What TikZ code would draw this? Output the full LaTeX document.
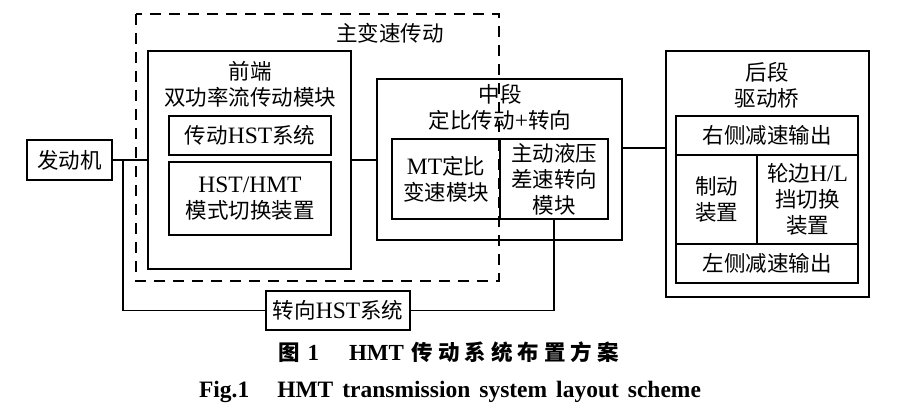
\documentclass[tikz,border=0pt]{standalone}
\usepackage{fontspec}
\setmainfont{Noto Sans CJK SC}
\newfontfamily\lat{Liberation Serif}
\newcommand\latt[1]{{\lat\fontsize{23.5}{26}\selectfont #1}}
\begin{document}
\begin{tikzpicture}[x=1pt,y=-1pt,
  font=\fontsize{21.5}{26}\selectfont,
  box/.style={draw, line width=1.5pt, inner sep=0pt, align=center},
  lbl/.style={inner sep=0pt, align=center},
  conn/.style={line width=1.5pt},
  dashbox/.style={line width=1.5pt, dash pattern=on 11pt off 8pt}]
\useasboundingbox[fill=white] (0,0) rectangle (900,417);

% engine
\node[box, minimum width=85pt, minimum height=40pt] (engine) at (69.5,160) {发动机};

% front module
\node[box, minimum width=203pt, minimum height=218pt] (front) at (249.5,160) {};
\node[lbl] (frontlbl) at (250,84) {前端\\双功率流传动模块};
\node[box, minimum width=162pt, minimum height=39pt] (hst1) at (250,135.5) {传动\latt{HST}系统};
\node[box, minimum width=162pt, minimum height=73pt] (hst2) at (250,198.5) {\latt{HST/HMT}\\模式切换装置};

% middle module
\node[box, minimum width=245pt, minimum height=161pt] (mid) at (499.5,159.5) {};
\node[lbl] (midlbl) at (500,107) {中段\\定比传动\latt{+}转向};
\node[box, minimum width=108pt, minimum height=80pt] (midL) at (446,179) {\latt{MT}定比\\变速模块};
\node[box, minimum width=108pt, minimum height=80pt] (midR) at (554,179) {主动液压\\差速转向\\模块};

% rear module
\node[box, minimum width=203pt, minimum height=246pt] (rear) at (767.5,174) {};
\node[lbl] (rearlbl) at (767,85) {后段\\驱动桥};
\node[box, minimum width=182pt, minimum height=39pt] (r1) at (767,135.5) {右侧减速输出};
\node[box, minimum width=81pt, minimum height=89pt] (r2l) at (716.5,199.5) {制动\\装置};
\node[box, minimum width=101pt, minimum height=89pt] (r2r) at (807.5,199.5) {轮边\latt{H/L}\\挡切换\\装置};
\node[box, minimum width=182pt, minimum height=39pt] (r3) at (767,263.5) {左侧减速输出};

% steering HST
\node[box, minimum width=144pt, minimum height=39pt] (steer) at (338,310.5) {转向\latt{HST}系统};

% dashed main transmission frame
\draw[dashbox] (136,14) rectangle (499,281);
\node[lbl] (mainlbl) at (390,33) {主变速传动};

% connectors
\coordinate (j1) at (123,160);
\coordinate (lvl) at (0,148);
\draw[conn] (engine.east) -- (front.west);
\draw[conn] (j1) |- (steer.west);
\draw[conn] (front.east) -- (front.east -| mid.west);
\draw[conn] (mid.east |- lvl) -- (rear.west |- lvl);
\draw[conn] (midR.south) |- (steer.east);

% captions
\node[lbl, font=\fontsize{21.5}{24}\selectfont\bfseries] (cap1) at (448.5,352)
  {图\hspace{8pt}{\lat\fontsize{23}{24}\selectfont 1}\hspace{30pt}{\lat\fontsize{23}{24}\selectfont HMT}\hspace{8pt}传\hspace{5pt}动\hspace{5pt}系\hspace{5pt}统\hspace{5pt}布\hspace{5pt}置\hspace{5pt}方\hspace{5pt}案};
\node[lbl, font=\fontsize{23.5}{24}\selectfont\lat\bfseries] (cap2) at (450,392)
  {Fig.1\hspace{28pt}HMT\hspace{9pt}transmission\hspace{9pt}system\hspace{9pt}layout\hspace{9pt}scheme};
\end{tikzpicture}
\end{document}
